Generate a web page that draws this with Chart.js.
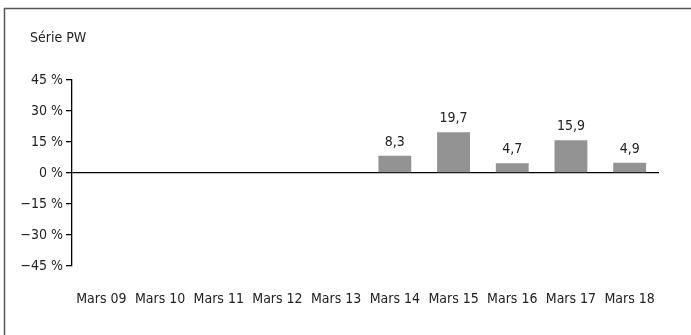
<!DOCTYPE html>
<html><head><meta charset="utf-8">
<script src="https://cdn.jsdelivr.net/npm/chart.js@4/dist/chart.umd.min.js"></script>
<style>html,body{margin:0;padding:0;background:#fff}#wrap{width:691px;height:335px;position:relative}</style>
</head><body><div id="wrap"><canvas id="c" width="691" height="335"></canvas></div>
<script>
const categories = ['Mars 09','Mars 10','Mars 11','Mars 12','Mars 13','Mars 14','Mars 15','Mars 16','Mars 17','Mars 18'];
const seriesPW = [null,null,null,null,null,8.3,19.7,4.7,15.9,4.9];
const yTicks = [-45,-30,-15,0,15,30,45];
const title = 'Série PW';

const FONT = '"Liberation Sans Narrow","DejaVu Sans Condensed","Arial Narrow",sans-serif';
const fmt = v => (v < 0 ? '\u2212' : '') + String(Math.abs(v)).replace('.', ',');

const decor = {
  id: 'decor',
  beforeDraw(chart) {
    const ctx = chart.ctx;
    ctx.save();
    ctx.strokeStyle = '#555';
    ctx.lineWidth = 1.5;
    ctx.beginPath();
    ctx.moveTo(4.5, 335);
    ctx.lineTo(4.5, 8.5);
    ctx.lineTo(691, 8.5);
    ctx.stroke();
    ctx.fillStyle = '#222';
    ctx.font = '14px ' + FONT;
    ctx.textBaseline = 'alphabetic';
    ctx.textAlign = 'left';
    ctx.fillText(title, 30, 42);
    ctx.restore();
  },
  afterDatasetsDraw(chart) {
    const ctx = chart.ctx;
    const meta = chart.getDatasetMeta(0);
    ctx.save();
    ctx.fillStyle = '#222';
    ctx.font = '14px ' + FONT;
    ctx.textAlign = 'center';
    ctx.textBaseline = 'alphabetic';
    meta.data.forEach((bar, i) => {
      const v = chart.data.datasets[0].data[i];
      if (v === null || v === undefined) return;
      ctx.fillText(fmt(v), bar.x, bar.y - 10);
    });
    ctx.restore();
  }
};

new Chart(document.getElementById('c'), {
  type: 'bar',
  data: {
    labels: categories,
    datasets: [{
      label: title,
      data: seriesPW,
      backgroundColor: '#939393',
      borderWidth: 0,
      barPercentage: 0.7,
      categoryPercentage: 0.8
    }]
  },
  options: {
    responsive: false,
    animation: false,
    devicePixelRatio: 1,
    layout: { padding: { left: 0, right: 32, top: 80, bottom: 0 } },
    plugins: { legend: { display: false }, tooltip: { enabled: false }, title: { display: false } },
    scales: {
      x: {
        grid: { display: false },
        border: { display: false },
        ticks: { color: '#222', font: { family: FONT, size: 14 }, padding: 17, maxRotation: 0, autoSkip: false },
        afterFit: s => { s.height = 69; }
      },
      y: {
        min: -45, max: 45,
        afterBuildTicks: s => { s.ticks = yTicks.map(v => ({ value: v })); },
        ticks: { color: '#222', font: { family: FONT, size: 14 }, padding: 3, callback: v => fmt(v) + ' %' },
        grid: {
          drawOnChartArea: true,
          color: c => (c.tick && c.tick.value === 0) ? '#000' : 'rgba(0,0,0,0)',
          tickColor: '#000',
          tickLength: 6,
          lineWidth: 1.3
        },
        border: { display: true, color: '#000', width: 1.3 },
        afterFit: s => { s.width = 72; }
      }
    }
  },
  plugins: [decor]
});
</script></body></html>
